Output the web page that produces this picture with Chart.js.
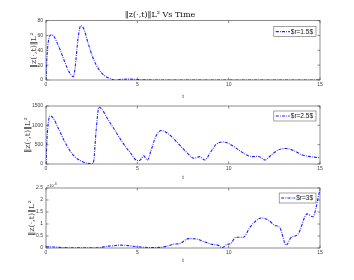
<!DOCTYPE html>
<html>
<head>
<meta charset="utf-8">
<script src="https://cdn.jsdelivr.net/npm/chart.js@4"></script>
<style>
	html, body { margin: 0; padding: 0; background: #fff; }
	#wrap { position: relative; width: 354px; height: 280px; }
	.panel { position: absolute; left: 0; width: 354px; }
</style>
</head>
<body>
<div id="wrap">
	<div class="panel" style="top:0;height:100px"><canvas id="c1"></canvas></div>
	<div class="panel" style="top:100px;height:82px"><canvas id="c2"></canvas></div>
	<div class="panel" style="top:182px;height:98px"><canvas id="c3"></canvas></div>
</div>
<script>
// r = 1.5
const timeA = [0, 0.05, 0.15, 0.3, 0.45, 0.7, 1.0, 1.2, 1.4, 1.5, 1.6, 1.75, 1.9, 2.05, 2.3, 2.6, 2.9, 3.2, 3.5, 3.8, 4.1, 4.5, 5.0, 5.5, 6, 8, 10, 12, 15];
const normA = [0, 30, 55, 61, 58, 45, 26, 14, 6, 4.5, 18, 55, 73, 70, 50, 28, 14, 6, 2, 0, 0.8, 1.2, 0.6, 0.2, 0, 0, 0, 0, 0];

// r = 2.5
const timeB = [0, 0.05, 0.15, 0.25, 0.4, 0.7, 1.0, 1.3, 1.6, 1.9, 2.2, 2.5, 2.6, 2.75, 2.9, 3.05, 3.4, 3.8, 4.2, 4.6, 5.0, 5.15, 5.35, 5.55, 5.75, 6.0, 6.3, 6.7, 7.2, 7.7, 8.1, 8.4, 8.7, 9.0, 9.3, 9.65, 10.0, 10.5, 11.0, 11.3, 11.6, 12.0, 12.3, 12.7, 13.15, 13.6, 14.0, 14.5, 15.0];
const normB = [0, 600, 1150, 1245, 1180, 900, 600, 350, 180, 80, 25, 8, 50, 900, 1475, 1420, 1150, 850, 550, 300, 90, 100, 210, 100, 350, 700, 865, 780, 550, 300, 150, 190, 105, 300, 500, 570, 530, 380, 230, 190, 200, 105, 220, 360, 400, 340, 240, 190, 160];

// r = 3
const timeC = [0, 0.5, 1, 1.5, 2, 2.5, 3, 3.3, 3.7, 4.0, 4.4, 4.8, 5.2, 5.8, 6.3, 6.7, 7.0, 7.3, 7.8, 8.2, 8.7, 9.1, 9.4, 9.65, 9.9, 10.1, 10.4, 10.8, 11.2, 11.8, 12.2, 12.5, 12.8, 13.15, 13.4, 13.8, 14.3, 14.6, 15.0];
const normC = [500, 400, 150, 100, 80, 80, 200, 700, 900, 1200, 1100, 700, 400, 200, 300, 900, 1600, 1800, 3900, 3800, 2500, 1500, 1200, 200, 1500, 1800, 4500, 4500, 9000, 12500, 11500, 9500, 8500, 1200, 4200, 5800, 14200, 13000, 24500];

const xTicks = [0, 5, 10, 15];
const seriesLabels = ['$r=1.5$', '$r=2.5$', '$r=3$'];
const yLabel = '\u2016z(\u00b7,t)\u2016L\u00b2';
const titleText = '\u2016z(\u00b7,t)\u2016L\u00b2 Vs Time';

const axisColor = '#404040';
const lineBlue = '#1a1aff';
const sans = 'Liberation Sans';
const serif = 'DejaVu Serif';

// box round the plot, ticks inside, boxed legend top right, optional exponent label
const matlabBox = {
	id: 'matlabBox',
	afterDraw(chart, args, opts) {
		const {ctx, chartArea: a, scales} = chart;
		ctx.save();
		ctx.strokeStyle = axisColor;
		ctx.lineWidth = 0.6;
		ctx.strokeRect(a.left, a.top, a.right - a.left, a.bottom - a.top);
		scales.x.ticks.forEach(t => {
			const px = scales.x.getPixelForValue(t.value);
			ctx.beginPath();
			ctx.moveTo(px, a.bottom); ctx.lineTo(px, a.bottom - 2.5);
			ctx.moveTo(px, a.top); ctx.lineTo(px, a.top + 2.5);
			ctx.stroke();
		});
		scales.y.ticks.forEach(t => {
			const py = scales.y.getPixelForValue(t.value);
			ctx.beginPath();
			ctx.moveTo(a.left, py); ctx.lineTo(a.left + 2.5, py);
			ctx.moveTo(a.right, py); ctx.lineTo(a.right - 2.5, py);
			ctx.stroke();
		});

		// legend
		const ds = chart.data.datasets[0];
		ctx.font = `6.5px ${sans}`;
		const textW = ctx.measureText(ds.label).width;
		const boxW = textW + 20, boxH = 10;
		const bx = a.right - 4 - boxW, by = a.top + opts.legendTop;
		ctx.fillStyle = '#fff';
		ctx.fillRect(bx, by, boxW, boxH);
		ctx.strokeStyle = '#666';
		ctx.lineWidth = 0.6;
		ctx.strokeRect(bx, by, boxW, boxH);
		ctx.strokeStyle = ds.borderColor;
		ctx.lineWidth = ds.borderWidth;
		ctx.setLineDash(ds.borderDash);
		ctx.beginPath();
		ctx.moveTo(bx + 2, by + boxH / 2);
		ctx.lineTo(bx + 16, by + boxH / 2);
		ctx.stroke();
		ctx.setLineDash([]);
		ctx.fillStyle = '#111';
		ctx.textBaseline = 'middle';
		ctx.fillText(ds.label, bx + 17, by + boxH / 2 + 0.5);

		if (opts.exponent) {
			ctx.fillStyle = axisColor;
			ctx.font = `4px ${sans}`;
			ctx.textBaseline = 'alphabetic';
			ctx.fillText('\u00d710', a.left + 1, a.top - 1.5);
			ctx.fillText('4', a.left + 8.5, a.top - 3.5);
		}
		ctx.restore();
	}
};

function makePanel(id, cfg) {
	return new Chart(document.getElementById(id), {
		type: 'line',
		data: {
			datasets: [{
				label: cfg.label,
				data: cfg.times.map((t, i) => ({x: t, y: cfg.values[i]})),
				borderColor: lineBlue,
				backgroundColor: lineBlue,
				borderWidth: 1.1,
				borderDash: [3, 1.2, 0.8, 1.2],
				pointRadius: 0,
				cubicInterpolationMode: 'monotone',
				fill: false
			}]
		},
		options: {
			responsive: true,
			maintainAspectRatio: false,
			animation: false,
			devicePixelRatio: 1,
			layout: {padding: {left: 0, right: 34, top: cfg.padTop, bottom: 0}},
			scales: {
				x: {
					type: 'linear',
					min: 0,
					max: 15,
					afterBuildTicks: scale => { scale.ticks = xTicks.map(v => ({value: v})); },
					afterFit: scale => { scale.height = cfg.xHeight; },
					grid: {display: false, drawTicks: false},
					border: {display: false},
					ticks: {color: axisColor, font: {family: sans, size: 5}, padding: 2, maxRotation: 0},
					title: {display: true, text: 't', color: axisColor, font: {family: sans, size: 6}, padding: {top: 0, bottom: cfg.tPad}}
				},
				y: {
					min: 0,
					max: cfg.yMax,
					afterBuildTicks: scale => { scale.ticks = cfg.yTicks.map(v => ({value: v})); },
					afterFit: scale => { scale.width = 46; },
					grid: {display: false, drawTicks: false},
					border: {display: false},
					ticks: {
						color: axisColor, font: {family: sans, size: 5}, padding: 3,
						callback: v => cfg.exponent ? String(v / 10000) : String(v)
					},
					title: {display: true, text: yLabel, color: axisColor, font: {family: serif, size: 8}, padding: {top: cfg.yPad, bottom: 0}}
				}
			},
			plugins: {
				title: cfg.title ? {
					display: true, text: cfg.title, color: '#111',
					font: {family: serif, size: 8, weight: 'normal'},
					padding: {top: 10, bottom: 1}
				} : {display: false},
				legend: {display: false},
				tooltip: {enabled: false},
				matlabBox: {exponent: !!cfg.exponent, legendTop: cfg.legendTop}
			}
		},
		plugins: [matlabBox]
	});
}

makePanel('c1', {label: seriesLabels[0], times: timeA, values: normA, yMax: 80, yTicks: [0, 20, 40, 60, 80], title: titleText, padTop: 0, xHeight: 20, tPad: 0, legendTop: 6, yPad: 29});
makePanel('c2', {label: seriesLabels[1], times: timeB, values: normB, yMax: 1500, yTicks: [0, 500, 1000, 1500], padTop: 5, xHeight: 18, tPad: 1.4, legendTop: 5, yPad: 23});
makePanel('c3', {label: seriesLabels[2], times: timeC, values: normC, yMax: 25000, yTicks: [0, 5000, 10000, 15000, 20000, 25000], padTop: 5, xHeight: 32, tPad: 16.4, exponent: true, legendTop: 5, yPad: 27});
</script>
</body>
</html>
